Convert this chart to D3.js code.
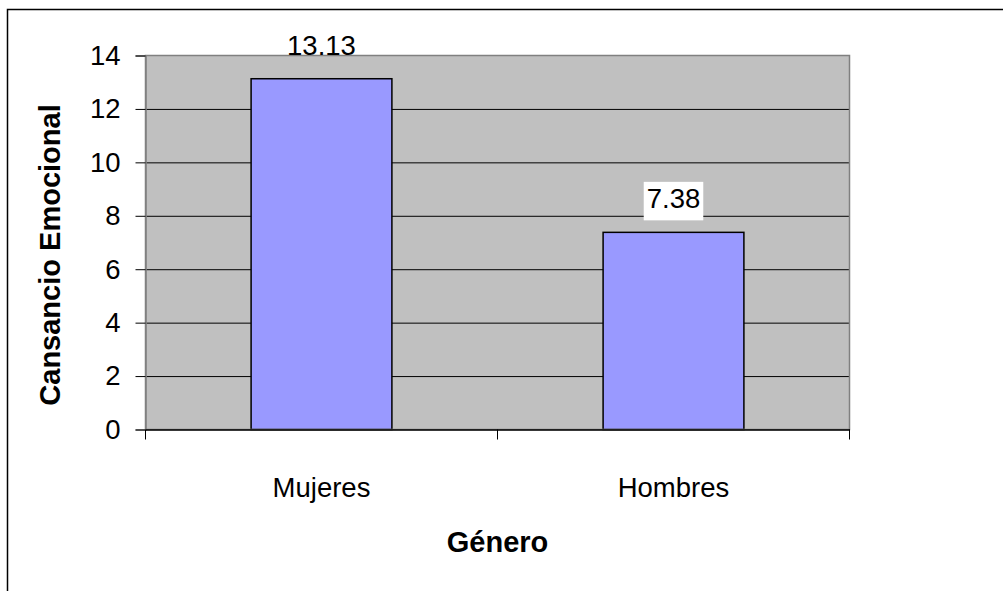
<!DOCTYPE html>
<html>
<head>
<meta charset="utf-8">
<script src="https://cdn.jsdelivr.net/npm/d3@7"></script>
<style>
  html, body { margin: 0; padding: 0; background: #fff; }
  svg { display: block; }
  text { font-family: "Liberation Sans", Arial, sans-serif; fill: #000; }
</style>
</head>
<body>
<svg id="chart" width="1003" height="591"></svg>
<script>
const categories = ["Mujeres", "Hombres"];
const values = [13.13, 7.38];
const valueLabels = ["13.13", "7.38"];
const yTicks = [0, 2, 4, 6, 8, 10, 12, 14];
const yTitle = "Cansancio Emocional";
const xTitle = "Género";

const W = 1003, H = 591;
const plot = { left: 145.5, top: 55.5, right: 849.5, bottom: 429.5 };
const regFont = 27.5, boldFont = 29;

const svg = d3.select("#chart");

// outer frame
svg.append("rect")
  .attr("x", 7.5).attr("y", 9.5)
  .attr("width", W + 20).attr("height", H + 20)
  .attr("fill", "#fff").attr("stroke", "#000").attr("stroke-width", 1.5);

const x = d3.scaleBand().domain(categories)
  .range([plot.left, plot.right]).paddingInner(0.6).paddingOuter(0.3);
const xOuter = d3.scaleBand().domain(categories).range([plot.left, plot.right]);
const y = d3.scaleLinear().domain([0, 14]).range([plot.bottom, plot.top]);

// plot background
svg.append("rect")
  .attr("x", plot.left).attr("y", plot.top)
  .attr("width", plot.right - plot.left).attr("height", plot.bottom - plot.top)
  .attr("fill", "#C0C0C0");

// gridlines
const grid = svg.append("g").attr("transform", `translate(${plot.left},0)`)
  .call(d3.axisLeft(y).tickValues(yTicks.filter(t => t > 0 && t < 14)).tickSize(-(plot.right - plot.left)).tickFormat(""));
grid.select(".domain").remove();
grid.selectAll("line").attr("stroke", "#000").attr("stroke-width", 1);

// value labels
const labelG = svg.append("g");
values.forEach((v, i) => {
  const cx = x(categories[i]) + x.bandwidth() / 2;
  const base = y(v) - 24;
  const t = labelG.append("text")
    .attr("x", cx).attr("y", base)
    .attr("text-anchor", "middle")
    .style("font-size", regFont + "px")
    .text(valueLabels[i]);
  const bb = t.node().getBBox();
  if (i > 0) {
    labelG.insert("rect", "text")
      .attr("x", bb.x - 3).attr("y", base - 26.5)
      .attr("width", bb.width + 6).attr("height", 38.5)
      .attr("fill", "#fff");
  }
});

// bars
svg.append("g").selectAll("rect").data(values).join("rect")
  .attr("x", (d, i) => x(categories[i]))
  .attr("y", d => y(d))
  .attr("width", x.bandwidth())
  .attr("height", d => y(0) - y(d))
  .attr("fill", "#9999FF")
  .attr("stroke", "#000").attr("stroke-width", 1.5);

// plot border
svg.append("rect")
  .attr("x", plot.left).attr("y", plot.top)
  .attr("width", plot.right - plot.left).attr("height", plot.bottom - plot.top)
  .attr("fill", "none").attr("stroke", "#808080").attr("stroke-width", 1.5);

labelG.raise();

// y axis
const yAxis = svg.append("g").attr("transform", `translate(${plot.left},0)`)
  .call(d3.axisLeft(y).tickValues(yTicks).tickSize(10).tickPadding(15).tickFormat(d3.format("d")));
yAxis.select(".domain").attr("stroke", "#808080").attr("stroke-width", 1.5);
yAxis.selectAll("line").attr("stroke", "#000");
yAxis.selectAll("text").style("font-size", regFont + "px").style("font-family", "Liberation Sans, Arial, sans-serif").attr("fill", "#000");

// x axis
const xAxis = svg.append("g").attr("transform", `translate(0,${plot.bottom})`)
  .call(d3.axisBottom(xOuter).tickSize(0).tickPadding(48));
xAxis.select(".domain").attr("stroke", "#000").attr("stroke-width", 1.5);
xAxis.selectAll("text").style("font-size", regFont + "px").style("font-family", "Liberation Sans, Arial, sans-serif").attr("fill", "#000");
const bounds = [...categories.map(c => xOuter(c)), plot.right];
xAxis.selectAll(".bound").data(bounds).join("line")
  .attr("class", "bound")
  .attr("x1", d => d).attr("x2", d => d)
  .attr("y1", 0).attr("y2", 10)
  .attr("stroke", "#000");

// axis titles
svg.append("text")
  .attr("transform", `translate(60,255) rotate(-90)`)
  .attr("text-anchor", "middle")
  .style("font-size", boldFont + "px").style("font-weight", "bold")
  .text(yTitle);

svg.append("text")
  .attr("x", (plot.left + plot.right) / 2).attr("y", 552)
  .attr("text-anchor", "middle")
  .style("font-size", boldFont + "px").style("font-weight", "bold")
  .text(xTitle);
</script>
</body>
</html>
